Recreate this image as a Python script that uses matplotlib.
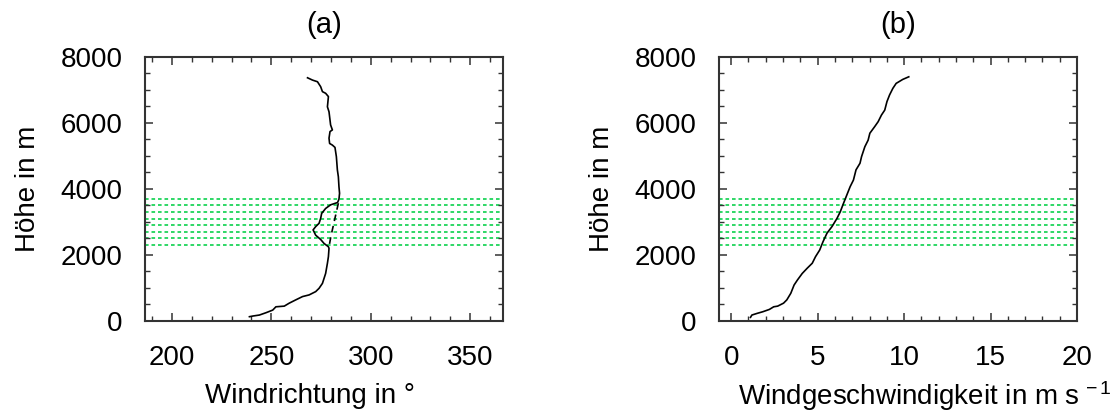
import matplotlib
matplotlib.use("Agg")
import matplotlib.pyplot as plt
from matplotlib.ticker import MultipleLocator

plt.rcParams['font.family'] = ['Liberation Sans', 'DejaVu Sans']
plt.rcParams['mathtext.fontset'] = 'custom'
plt.rcParams['mathtext.rm'] = 'Liberation Sans'
plt.rcParams['mathtext.it'] = 'Liberation Sans'

# wind direction profile (deg, m)
dir_deg = [268.2, 270.7, 273.2, 274.8, 275.7, 277.3, 278.7, 278.2, 279.0, 279.5,
           279.8, 280.7, 279.5, 279.0, 279.3, 280.7, 282.0, 282.7, 283.2, 283.7,
           284.0, 284.3, 284.0, 283.3, 279.8, 277.3, 275.3, 274.8, 274.0, 272.3,
           271.0, 272.3, 274.8, 276.5, 278.7, 279.0, 278.7, 278.2, 277.3, 275.7,
           274.0, 272.3, 269.0, 265.7, 262.3, 259.0, 256.5, 252.3, 250.7, 247.3,
           244.0, 240.7, 239.0]
dir_z = [7370, 7300, 7250, 7100, 6950, 6900, 6800, 6490, 6340, 6090,
         5940, 5790, 5740, 5540, 5380, 5330, 5260, 4980, 4580, 4370,
         4070, 3870, 3690, 3590, 3520, 3410, 3260, 3110, 2960, 2860,
         2760, 2600, 2470, 2350, 2250, 2200, 1950, 1750, 1440, 1140,
         990, 890, 790, 740, 640, 540, 450, 430, 330, 250,
         180, 150, 130]

# alternative direction inside the layer (dashed)
dir_alt_deg = [283.7, 282.5, 281.2, 280.0, 279.0]
dir_alt_z = [3570, 3250, 2900, 2580, 2250]

# wind speed profile (m/s, m)
spd = [10.27, 9.92, 9.54, 9.35, 9.16, 9.01, 8.88, 8.69, 8.50, 8.30,
       8.02, 7.92, 7.73, 7.54, 7.45, 7.22, 7.07, 6.88, 6.69, 6.50,
       6.31, 6.12, 5.83, 5.54, 5.31, 5.12, 4.88, 4.69, 4.40, 4.11,
       3.83, 3.64, 3.45, 3.22, 3.03, 2.69, 2.46, 2.21, 1.83, 1.50,
       1.20, 1.12]
spd_z = [7400, 7320, 7200, 7050, 6850, 6650, 6390, 6240, 6040, 5890,
         5690, 5480, 5280, 4980, 4780, 4580, 4270, 4070, 3820, 3570,
         3310, 3110, 2860, 2660, 2400, 2150, 1950, 1750, 1600, 1440,
         1240, 1090, 840, 640, 540, 450, 430, 350, 280, 230,
         180, 110]

# heights of the marked levels
levels = [2300, 2500, 2700, 2900, 3100, 3300, 3500, 3700]

fig = plt.figure(figsize=(11.12, 4.16), dpi=100)
ax_a = fig.add_axes([0.1304, 0.2284, 0.322, 0.6346])
ax_b = fig.add_axes([0.6466, 0.2284, 0.322, 0.6346])

green = '#1fd45a'
for ax in (ax_a, ax_b):
    for z in levels:
        ax.axhline(z, color=green, lw=1.3, ls=(0, (2.0, 1.6)), zorder=1)
    ax.set_ylim(0, 8000)
    ax.yaxis.set_major_locator(MultipleLocator(2000))
    ax.yaxis.set_minor_locator(MultipleLocator(500))
    ax.tick_params(which='both', direction='in', top=True, right=True,
                   labelsize=20, color='#333333')
    ax.tick_params(which='major', length=6, width=1.1)
    ax.tick_params(which='minor', length=3.5, width=1.0)
    ax.tick_params(axis='x', pad=17)
    ax.tick_params(axis='y', pad=16)
    for s in ax.spines.values():
        s.set_linewidth(1.5)
        s.set_color('#333333')
    ax.set_ylabel('Höhe in m', fontsize=20, labelpad=14)

ax_a.plot(dir_deg, dir_z, color='black', lw=1.2, zorder=3)
ax_a.plot(dir_alt_deg, dir_alt_z, color='black', lw=1.2, ls=(0, (4, 3)), zorder=3)
ax_a.set_xlim(186.5, 366.5)
ax_a.xaxis.set_major_locator(MultipleLocator(50))
ax_a.xaxis.set_minor_locator(MultipleLocator(10))
ax_a.set_xlabel('Windrichtung in °', fontsize=20, labelpad=9)
ax_a.xaxis.label.set_x(0.46)
ax_a.set_title('(a)', fontsize=21, pad=17)

ax_b.plot(spd, spd_z, color='black', lw=1.2, zorder=3)
ax_b.set_xlim(-0.7, 20.0)
ax_b.xaxis.set_major_locator(MultipleLocator(5))
ax_b.xaxis.set_minor_locator(MultipleLocator(1))
ax_b.set_xlabel(r'Windgeschwindigkeit in m s$^{\,-1}$', fontsize=20, labelpad=6)
ax_b.xaxis.label.set_x(0.575)
ax_b.set_title('(b)', fontsize=21, pad=17)

fig.savefig('out.png', dpi=100)
